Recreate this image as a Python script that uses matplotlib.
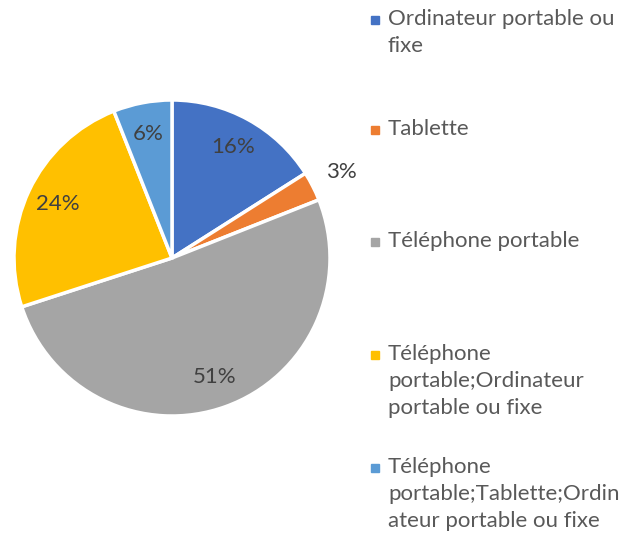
import numpy as np
import matplotlib.pyplot as plt

plt.rcParams['font.family'] = ['Lato', 'DejaVu Sans']

# Données
categories = ['Ordinateur portable ou\nfixe',
              'Tablette',
              'Téléphone portable',
              'Téléphone\nportable;Ordinateur\nportable ou fixe',
              'Téléphone\nportable;Tablette;Ordin\nateur portable ou fixe']
values = [16, 3, 51, 24, 6]
colors = ['#4472C4', '#ED7D31', '#A5A5A5', '#FFC000', '#5B9BD5']

fig = plt.figure(figsize=(6.4, 5.39), dpi=100)
# pie: centre ~ (172, 258), rayon ~158 px
ax = fig.add_axes([(172 - 158) / 640, 1 - (258 + 158) / 539, 316 / 640, 316 / 539])

wedges, texts, autotexts = ax.pie(
    values, colors=colors, startangle=90, counterclock=False,
    autopct='%1.0f%%', pctdistance=0.8,
    wedgeprops=dict(edgecolor='white', linewidth=2.5),
    textprops=dict(color='#404040', fontsize=16))
ax.set_aspect('equal')
ax.set_xlim(-1, 1)
ax.set_ylim(-1, 1)

# étiquette 3% à l'extérieur
w = wedges[1]
ang = np.deg2rad((w.theta1 + w.theta2) / 2)
autotexts[1].set_position((1.2 * np.cos(ang), 1.2 * np.sin(ang)))
for t in autotexts:
    t.set_clip_on(False)

# légende manuelle (style Excel: carré sur la première ligne)
y_top = [20, 130, 242, 355, 468]
for lab, col, y in zip(categories, colors, y_top):
    fig.text(388 / 640, 1 - (y - 11) / 539, lab, fontsize=16, color='#595959',
             va='top', ha='left', linespacing=1.45)
    fig.add_artist(plt.Line2D([375 / 640], [1 - y / 539], marker='s', markersize=6,
                              color=col, linestyle='none', transform=fig.transFigure))

plt.savefig('out.png', dpi=100)
